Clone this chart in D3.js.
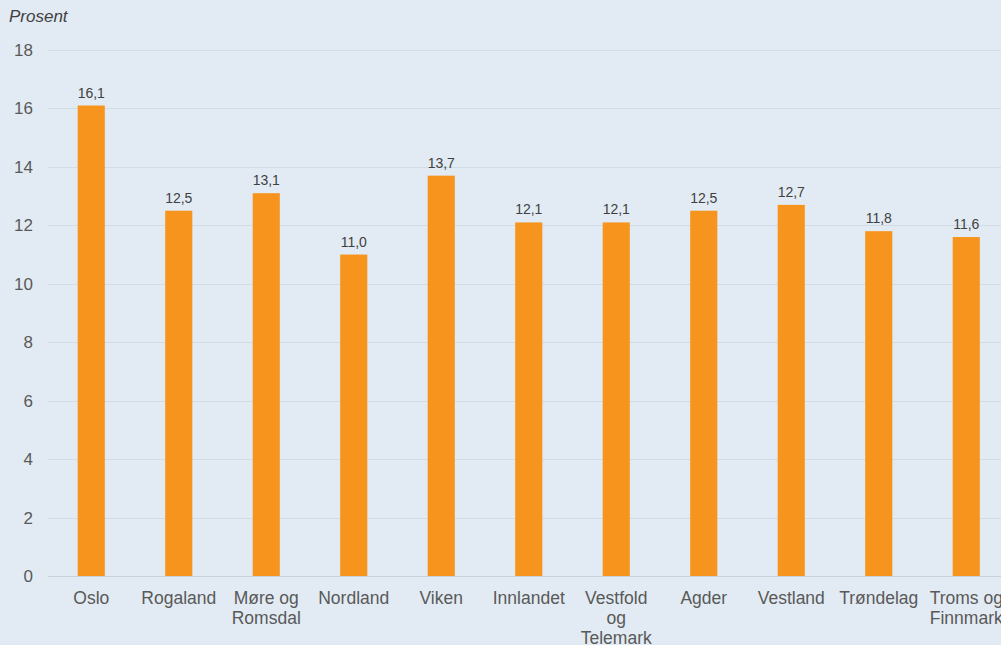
<!DOCTYPE html>
<html>
<head>
<meta charset="utf-8">
<script src="https://cdn.jsdelivr.net/npm/d3@7"></script>
<style>
  body { margin: 0; background: #e2ebf3; overflow: hidden; }
  svg { display: block; font-family: "Liberation Sans", Arial, sans-serif; }
</style>
</head>
<body>
<div class="chart"></div>
<script>
var categories = ["Oslo", "Rogaland", "Møre og\nRomsdal", "Nordland", "Viken", "Innlandet",
                  "Vestfold\nog\nTelemark", "Agder", "Vestland", "Trøndelag", "Troms og\nFinnmark"];
var values = [16.1, 12.5, 13.1, 11.0, 13.7, 12.1, 12.1, 12.5, 12.7, 11.8, 11.6];
var yTicks = [0, 2, 4, 6, 8, 10, 12, 14, 16, 18];
var yLabel = "Prosent";

function make_chart() {
    var w = 1001, h = 645;
    var margin = {top: 50, left: 47.5, bottom: 69};
    var bandW = 87.5;

    var svg = d3.select(".chart").append("svg")
                .attr("width", w)
                .attr("height", h);

    svg.append("rect").attr("width", w).attr("height", h).attr("fill", "#e2ebf3");

    var x = d3.scaleBand()
              .domain(categories)
              .range([margin.left, margin.left + bandW * categories.length])
              .paddingInner(0.69)
              .paddingOuter(0.345);

    var y = d3.scaleLinear()
              .domain([0, 18])
              .range([h - margin.bottom, margin.top]);

    // gridlines
    svg.append("g")
       .selectAll("line")
       .data(yTicks)
       .enter()
       .append("line")
       .attr("x1", margin.left)
       .attr("x2", w)
       .attr("y1", function(d) { return Math.round(y(d)) + 0.5; })
       .attr("y2", function(d) { return Math.round(y(d)) + 0.5; })
       .attr("stroke", function(d) { return d == 0 ? "#c9d2db" : "#d3dbe3"; })
       .attr("stroke-width", 1);

    // y axis labels
    var yAxis = svg.append("g")
       .attr("transform", "translate(" + 33 + ",0)")
       .call(d3.axisLeft(y).tickValues(yTicks).tickSize(0).tickPadding(0));
    yAxis.select(".domain").remove();
    yAxis.selectAll("text")
         .attr("font-size", 17)
         .attr("fill", "#595959")
         .attr("font-family", "Liberation Sans, Arial, sans-serif");

    svg.append("text")
       .attr("x", 9)
       .attr("y", 22)
       .attr("font-size", 17)
       .attr("font-style", "italic")
       .attr("fill", "#404040")
       .text(yLabel);

    // bars
    svg.selectAll(".bar")
       .data(values)
       .enter()
       .append("rect")
       .attr("class", "bar")
       .attr("x", function(d, i) { return x(categories[i]); })
       .attr("width", x.bandwidth())
       .attr("y", function(d) { return y(d); })
       .attr("height", function(d) { return y(0) - y(d); })
       .attr("fill", "#f7941d");

    // value labels
    svg.selectAll(".val")
       .data(values)
       .enter()
       .append("text")
       .attr("class", "val")
       .attr("x", function(d, i) { return x(categories[i]) + x.bandwidth() / 2; })
       .attr("y", function(d) { return y(d) - 8; })
       .attr("text-anchor", "middle")
       .attr("font-size", 14)
       .attr("fill", "#404040")
       .text(function(d) { return d3.format(".1f")(d).replace(".", ","); });

    // category labels
    var cat = svg.selectAll(".cat")
       .data(categories)
       .enter()
       .append("text")
       .attr("class", "cat")
       .attr("text-anchor", "middle")
       .attr("font-size", 17.5)
       .attr("fill", "#595959")
       .attr("transform", function(d) {
           return "translate(" + (x(d) + x.bandwidth() / 2) + "," + 604 + ")";
       });
    cat.selectAll("tspan")
       .data(function(d) { return d.split("\n"); })
       .enter()
       .append("tspan")
       .attr("x", 0)
       .attr("y", function(d, i) { return i * 20; })
       .text(function(d) { return d; });
}

make_chart();
</script>
</body>
</html>
